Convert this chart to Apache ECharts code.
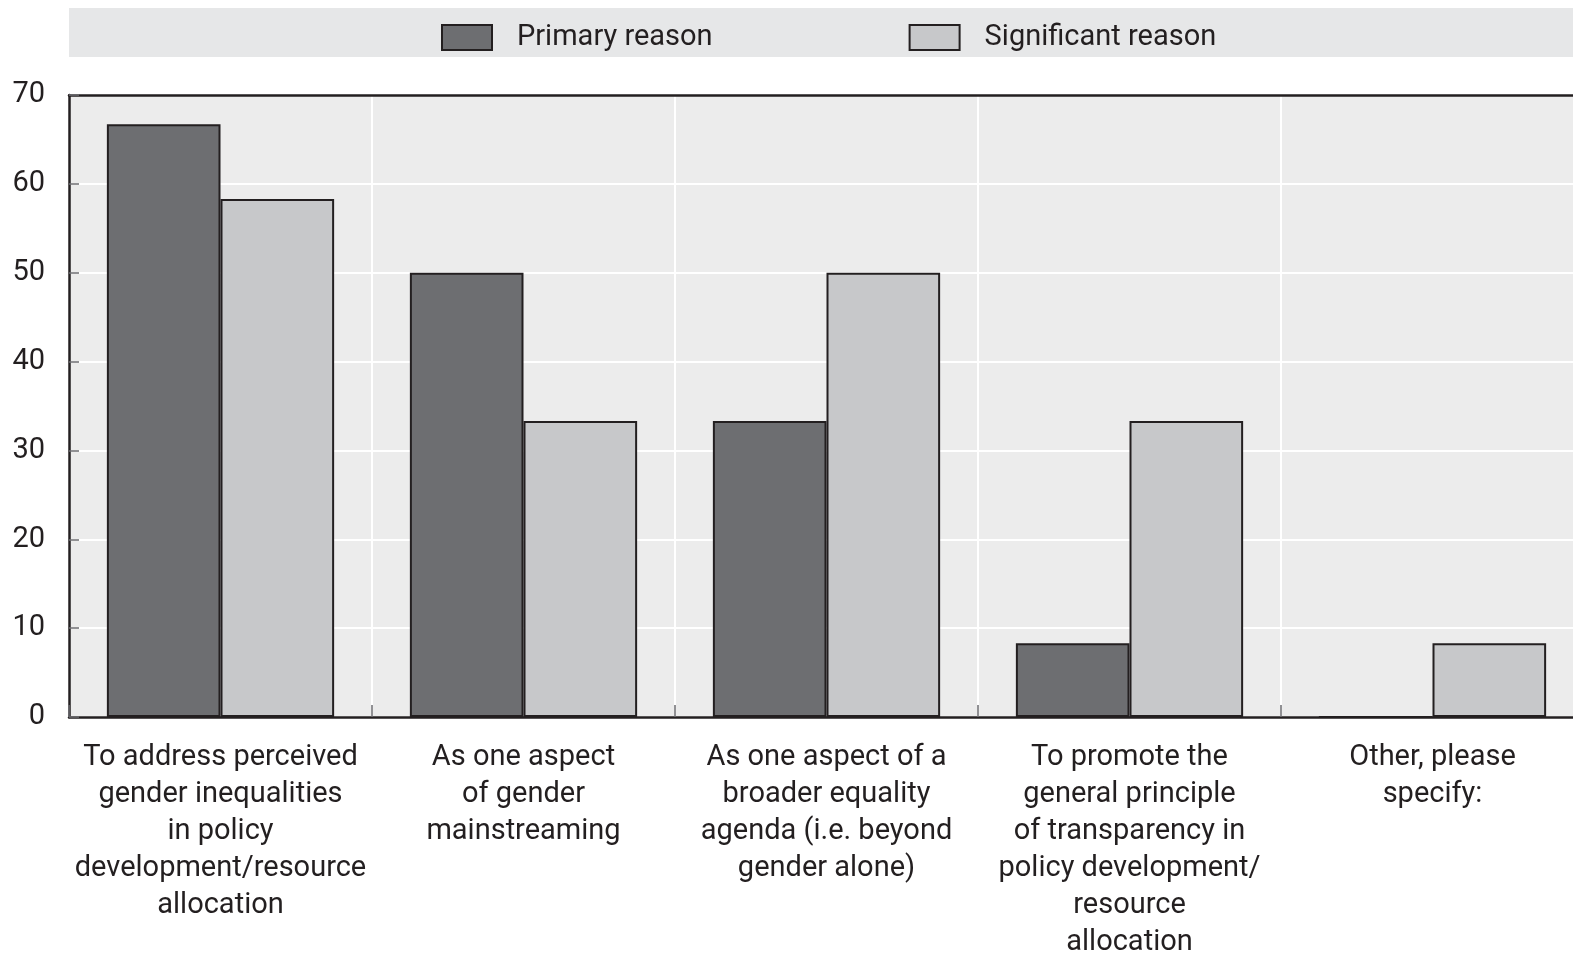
<!DOCTYPE html>
<html><head><meta charset="utf-8">
<script src="https://cdn.jsdelivr.net/npm/echarts@6/dist/echarts.min.js"></script>
<style>html,body{margin:0;padding:0;background:#fff}#c{width:1573px;height:953px}</style>
</head><body><div id="c"></div>
<script>
var categories = [
  "To address perceived\ngender inequalities\nin policy\ndevelopment/resource\nallocation",
  "As one aspect\nof gender\nmainstreaming",
  "As one aspect of a\nbroader equality\nagenda (i.e. beyond\ngender alone)",
  "To promote the\ngeneral principle\nof transparency in\npolicy development/\nresource\nallocation",
  "Other, please\nspecify:"
];
var primaryReason = [66.7, 50.0, 33.3, 8.3, 0];
var significantReason = [58.3, 33.3, 50.0, 33.3, 8.3];
var yTicks = [0, 10, 20, 30, 40, 50, 60, 70];

var FONT = '"Roboto","Liberation Sans",sans-serif';
var TXT = '#231f20';
var chart = echarts.init(document.getElementById('c'));
chart.setOption({
  animation: false,
  textStyle: {fontFamily: FONT},
  graphic: [{
    type: 'rect', left: 69, top: 8, z: -1,
    shape: {width: 1504, height: 49},
    style: {fill: '#e6e7e8'}
  }],
  legend: {
    left: 436, top: 18, icon: 'rect',
    itemWidth: 50, itemHeight: 25, itemGap: 196,
    textStyle: {fontFamily: FONT, fontSize: 29, color: TXT, padding: [0, 0, 0, 20]},
    data: ['Primary reason', 'Significant reason']
  },
  grid: {
    left: 69, top: 95, bottom: 236, right: -11,
    outerBoundsMode: 'none', containLabel: false,
    show: true, backgroundColor: '#ececec', borderWidth: 0
  },
  xAxis: [{
    type: 'category', data: categories,
    axisLine: {lineStyle: {color: '#231f20', width: 2.5}},
    axisTick: {show: true, inside: true, length: 12, lineStyle: {color: '#6d6e71', width: 1.5}},
    splitLine: {show: true, lineStyle: {color: '#ffffff', width: 2}},
    axisLabel: {interval: 0, margin: 22, fontSize: 29, lineHeight: 37, color: TXT, fontFamily: FONT}
  }, {
    type: 'category', data: categories, position: 'top',
    axisLine: {show: true, lineStyle: {color: '#231f20', width: 2.5}},
    axisTick: {show: false}, axisLabel: {show: false}, splitLine: {show: false}
  }],
  yAxis: {
    type: 'value', min: 0, max: 70, interval: 10,
    axisLine: {show: true, lineStyle: {color: '#231f20', width: 2.5}},
    axisTick: {show: true, inside: true, length: 10, lineStyle: {color: '#6d6e71', width: 1.5}},
    splitLine: {show: true, lineStyle: {color: '#ffffff', width: 2}},
    axisLabel: {margin: 24, fontSize: 29, color: TXT, fontFamily: FONT, padding: [6, 0, 0, 0],
      formatter: function (v) { return yTicks.indexOf(v) >= 0 ? String(v) : ''; }}
  },
  series: [{
    name: 'Primary reason', type: 'bar', data: primaryReason,
    barGap: '0%', barCategoryGap: '25%',
    itemStyle: {color: '#6d6e71', borderColor: '#231f20', borderWidth: 2}
  }, {
    name: 'Significant reason', type: 'bar', data: significantReason,
    barGap: '0%', barCategoryGap: '25%',
    itemStyle: {color: '#c7c8ca', borderColor: '#231f20', borderWidth: 2}
  }]
});
</script></body></html>
